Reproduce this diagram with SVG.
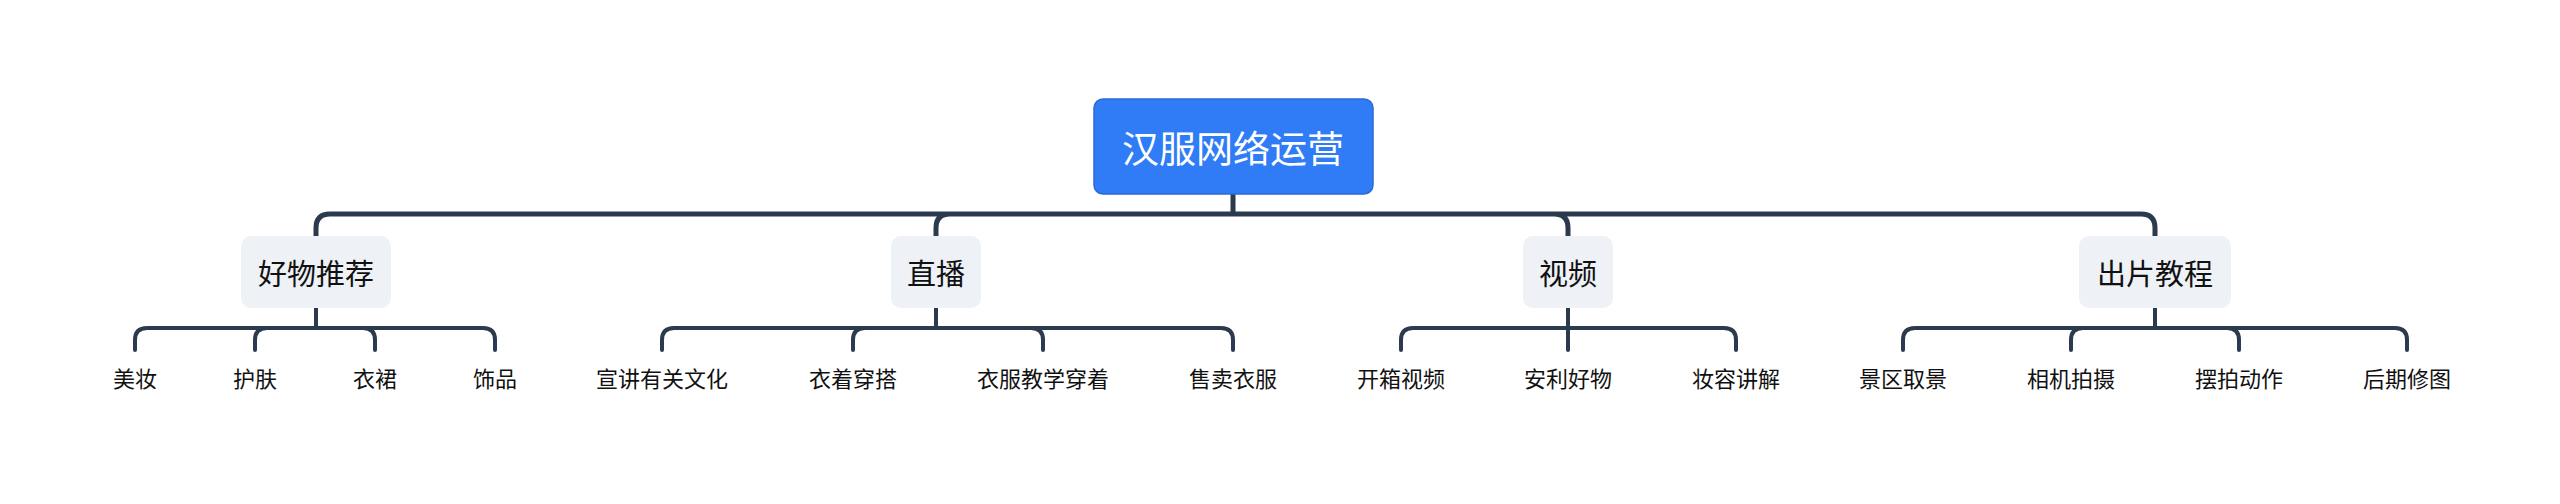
<svg xmlns="http://www.w3.org/2000/svg" width="2560" height="504" viewBox="0 0 2560 504">
<style>
text{font-family:"Noto Sans CJK SC","Noto Sans",sans-serif;text-anchor:middle;dominant-baseline:central}
.c1{fill:none;stroke:#2b3a4e;stroke-width:5;stroke-linecap:round}
.c2{fill:none;stroke:#2b3a4e;stroke-width:4;stroke-linecap:round}
.l1 rect{fill:#eef1f5}
.l1 text{font-size:29px;fill:#111}
.l2 text{font-size:22px;fill:#111}
</style>
<rect width="2560" height="504" fill="#fff"/>
<g id="connectors">
<path class="c1" d="M1233 194V214M1233 214H330Q316 214 316 228V236M1233 214H950Q936 214 936 228V236M1233 214H1554Q1568 214 1568 228V236M1233 214H2141Q2155 214 2155 228V236"/>
<path class="c2" d="M316 308V328M316 328H147Q135 328 135 340V350M316 328H267Q255 328 255 340V350M316 328H363Q375 328 375 340V350M316 328H483Q495 328 495 340V350"/>
<path class="c2" d="M936 308V328M936 328H674Q662 328 662 340V350M936 328H865Q853 328 853 340V350M936 328H1031Q1043 328 1043 340V350M936 328H1221Q1233 328 1233 340V350"/>
<path class="c2" d="M1568 308V350M1568 328H1413Q1401 328 1401 340V350M1568 328H1724Q1736 328 1736 340V350"/>
<path class="c2" d="M2155 308V328M2155 328H1915Q1903 328 1903 340V350M2155 328H2083Q2071 328 2071 340V350M2155 328H2227Q2239 328 2239 340V350M2155 328H2395Q2407 328 2407 340V350"/>
</g>
<g id="root"><rect x="1094" y="99" width="279" height="95" rx="9" fill="#2f7cf6" stroke="#2a6bd6" stroke-width="1.5"/><text x="1233" y="147" font-size="37" fill="#fff">汉服网络运营</text></g>
<g id="n1" class="l1"><rect x="241" y="236" width="150" height="72" rx="10"/><text x="316" y="272">好物推荐</text></g>
<g id="n2" class="l1"><rect x="891" y="236" width="90" height="72" rx="10"/><text x="936" y="272">直播</text></g>
<g id="n3" class="l1"><rect x="1523" y="236" width="90" height="72" rx="10"/><text x="1568" y="272">视频</text></g>
<g id="n4" class="l1"><rect x="2079" y="236" width="152" height="72" rx="10"/><text x="2155" y="272">出片教程</text></g>
<g class="l2">
<g id="a1"><text x="135" y="377">美妆</text></g>
<g id="a2"><text x="255" y="377">护肤</text></g>
<g id="a3"><text x="375" y="377">衣裙</text></g>
<g id="a4"><text x="495" y="377">饰品</text></g>
<g id="b1"><text x="662" y="377">宣讲有关文化</text></g>
<g id="b2"><text x="853" y="377">衣着穿搭</text></g>
<g id="b3"><text x="1043" y="377">衣服教学穿着</text></g>
<g id="b4"><text x="1233" y="377">售卖衣服</text></g>
<g id="c1"><text x="1401" y="377">开箱视频</text></g>
<g id="c2"><text x="1568" y="377">安利好物</text></g>
<g id="c3"><text x="1736" y="377">妆容讲解</text></g>
<g id="d1"><text x="1903" y="377">景区取景</text></g>
<g id="d2"><text x="2071" y="377">相机拍摄</text></g>
<g id="d3"><text x="2239" y="377">摆拍动作</text></g>
<g id="d4"><text x="2407" y="377">后期修图</text></g>
</g>
</svg>
